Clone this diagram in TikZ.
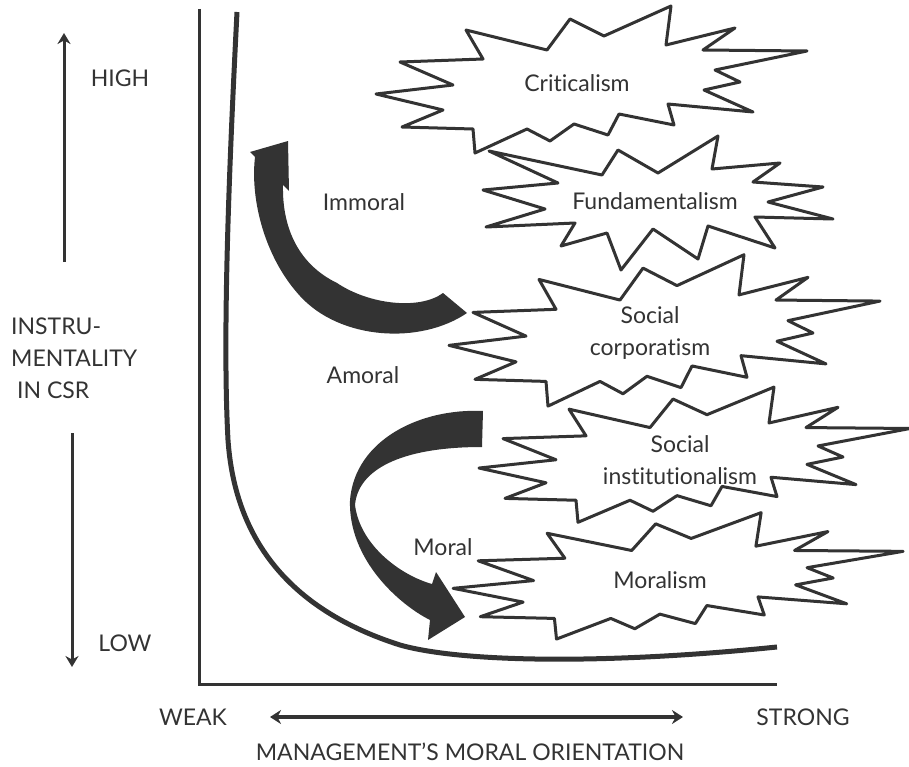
\documentclass[tikz,border=0pt]{standalone}
\usepackage{fontspec}
\setmainfont{Lato}[Ligatures=NoCommon]
\usetikzlibrary{arrows.meta}
\definecolor{ink}{HTML}{333333}
\tikzset{
  lbl/.style={font=\fontsize{23bp}{32bp}\selectfont, text=ink, inner sep=0pt, align=center},
  burst/.style={draw=ink, fill=white, line width=3bp, line join=round},
  axisline/.style={draw=ink, line width=3bp},
  pointer/.style={draw=ink, line width=3bp, -{Stealth[length=11bp,width=13bp]}},
  dblpointer/.style={draw=ink, line width=3.5bp, {Stealth[length=11bp,width=14bp]}-{Stealth[length=11bp,width=14bp]}},
  bigarrow/.style={fill=ink, draw=none},
  starpath/.style={insert path={(-201,12) -- (-124,3) -- (-177,-20) -- (-94,-23) -- (-111,-52) -- (-30,-32) -- (-7,-63) -- (27,-46) -- (94,-76) -- (89,-37) -- (158,-54) -- (126,-32) -- (230,-31) -- (138,-12) -- (163,0) -- (127,8) -- (176,30) -- (91,22) -- (97,43) -- (42,32) -- (31,53) -- (-3,42) -- (-27,59) -- (-50,47) -- (-102,71) -- (-104,47) -- (-175,45) -- (-134,28) -- cycle}},
  fundpath/.style={insert path={(-166,-50) -- (-53,-26) -- (-37,-51) -- (3,-28) -- (63,-65) -- (57,-32) -- (125,-38) -- (98,-19) -- (168,-14) -- (113,1) -- (178,18) -- (100,16) -- (120,47) -- (53,25) -- (43,58) -- (-2,28) -- (-34,69) -- (-48,32) -- (-94,45) -- (-80,22) -- (-169,26) -- (-110,8) -- (-172,-11) -- (-97,-18) -- cycle}}
}
\begin{document}
\begin{tikzpicture}[x=1bp,y=-1bp]
\useasboundingbox (0,0) rectangle (909,767);

% axes
\coordinate (ytop) at (199,9);
\coordinate (origin) at (199,684);
\coordinate (xend) at (777,684);
\draw[axisline, line join=miter] (ytop) -- (origin) -- (xend);

% response curve
\draw[ink, line width=5bp] (237,12) .. controls (230,150) and (222,330) .. (228,440)
  .. controls (235,540) and (290,610) .. (400,645)
  .. controls (460,662) and (600,665) .. (777,647);

% starbursts
\draw[burst, shift={(655,201)}, fundpath];
\draw[burst, shift={(577,82)}, starpath];
\draw[burst, shift={(650,333)}, yscale=1.03, starpath];
\draw[burst, shift={(680,457)}, yscale=0.92, starpath];
\draw[burst, shift={(663,578)}, xscale=1.044, yscale=0.86, starpath];

\node[lbl] (crit) at (577,83) {Criticalism};
\node[lbl] (fund) at (655,201) {Fundamentalism};
\node[lbl] (socc) at (650,333) {Social\\corporatism};
\node[lbl] (soci) at (680,460) {Social\\institutionalism};
\node[lbl] (moralism) at (660,580) {Moralism};

% big curved arrows
\fill[bigarrow] (467,313) .. controls (420,345) and (340,340) .. (300,296)
  .. controls (265,258) and (250,200) .. (255,157) -- (250,152) -- (288,141) -- (289,191) -- (283,185)
  .. controls (282,230) and (300,265) .. (337,283)
  .. controls (370,305) and (420,310) .. (443,293) -- cycle;
\fill[bigarrow] (483,411) .. controls (420,408) and (355,440) .. (350,500)
  .. controls (348,560) and (400,605) .. (430,620) -- (428,640) -- (465,617) -- (436,572) -- (432,584)
  .. controls (400,575) and (360,545) .. (355,505)
  .. controls (358,470) and (400,447) .. (482,447) -- cycle;

\node[lbl] (immoral) at (364,202) {Immoral};
\node[lbl] (amoral) at (363,375) {Amoral};
\node[lbl] (moral) at (443,547) {Moral};

% vertical axis label and arrows
\node[lbl] (high) at (120,78) {HIGH};
\node[lbl, anchor=west, align=left] (instr) at (11,358) {INSTRU-\\MENTALITY\\\hspace*{6bp}IN CSR};
\node[lbl] (low) at (125,643) {LOW};
\coordinate (upbot) at (64,262);
\coordinate (uptop) at (64,33);
\coordinate (dntop) at (72,433);
\coordinate (dnbot) at (72,667);
\draw[pointer] (upbot) -- (uptop);
\draw[pointer] (dntop) -- (dnbot);

% horizontal axis label and arrow
\node[lbl] (weak) at (193,717) {WEAK};
\node[lbl] (strong) at (803,717) {STRONG};
\coordinate (hl) at (270,717);
\coordinate (hr) at (683,717);
\draw[dblpointer] (hl) -- (hr);
\node[lbl] (mmo) at (470,752) {MANAGEMENT’S MORAL ORIENTATION};
\end{tikzpicture}
\end{document}
